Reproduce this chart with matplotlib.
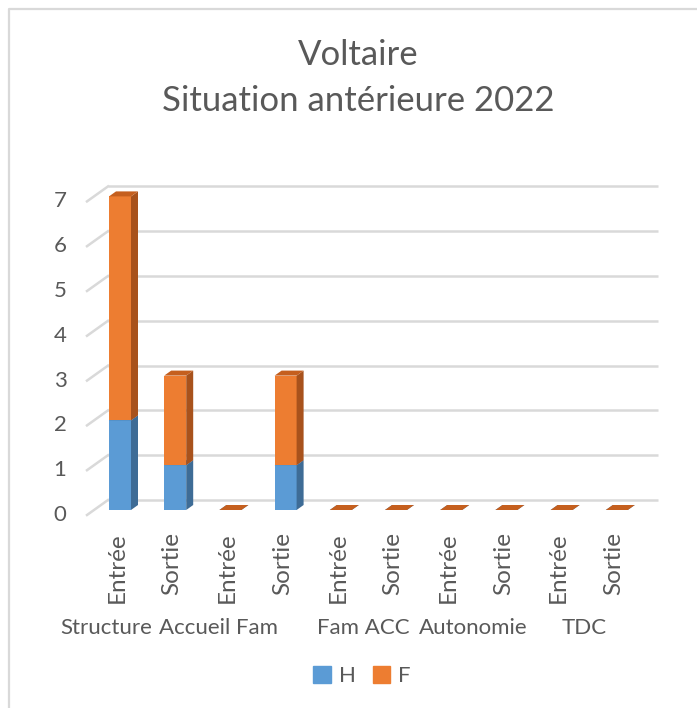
import matplotlib.pyplot as plt
from matplotlib.patches import Polygon, Patch
from matplotlib.lines import Line2D

# data
groups = ["Structure", "Accueil Fam", "Fam ACC", "Autonomie", "TDC"]
sub_labels = ["Entrée", "Sortie"]
h_vals = [2, 1, 0, 1, 0, 0, 0, 0, 0, 0]
f_vals = [5, 2, 0, 2, 0, 0, 0, 0, 0, 0]
y_ticks = [0, 1, 2, 3, 4, 5, 6, 7]

# layout (pixel based, figure is 697 x 708 at dpi 100)
W, H = 697, 708
X0, XSTEP = 117, 55.2      # pixel x of first category, step
Y0, YSTEP = 515, 44.8      # pixel y (from top) of value 0 on front plane
group_shift = [-0.69, -0.66, -0.04, -0.04, -0.04]   # in category units

TEXT = "#595959"
GRID = "#d9d9d9"
BLUE, BLUE_SIDE, BLUE_TOP = "#5b9bd5", "#3e6c96", "#4a82b5"
ORANGE, ORANGE_SIDE, ORANGE_TOP = "#ed7d31", "#a8521c", "#c55f1e"

plt.rcParams["font.family"] = ["Lato", "DejaVu Sans"]

fig = plt.figure(figsize=(W / 100, H / 100), dpi=100)
ax = fig.add_axes([0, 0, 1, 1])
ax.set_xlim(-X0 / XSTEP, (W - X0) / XSTEP)
ax.set_ylim((Y0 - H) / YSTEP, Y0 / YSTEP)
ax.axis("off")


def px(dx, dy):
    # pixel offset -> data units
    return dx / XSTEP, dy / YSTEP


# chart frame (left and top edges only visible)
fig.add_artist(Line2D([9 / W, 9 / W, 1], [0, 1 - 9 / H, 1 - 9 / H],
                      transform=fig.transFigure, color=GRID, lw=1.6))

# back wall gridlines + floor diagonals + y labels
gx0, _ = px(87 - X0, 0)
gx1, gy = px(108 - X0, 15)
gx2, _ = px(658 - X0, 0)
lx, _ = px(60 - X0, 0)
for v in y_ticks:
    ax.plot([gx1, gx2], [v + gy, v + gy], color=GRID, lw=1.8, zorder=1,
            solid_capstyle="butt")
    ax.plot([gx0, gx1], [v, v + gy], color=GRID, lw=1.8, zorder=1)
    ax.text(lx, v, str(v), ha="center", va="center", fontsize=16, color=TEXT)

# bars (front face + side + top)
bx, by = px(3, 5)          # bar front plane shift
dx, dy = px(7, 5)          # bar depth
bw = 22 / XSTEP
xs = list(range(len(h_vals)))


def draw_stack(x, bottom, height, front, side, top):
    left = x + bx - bw / 2
    y0 = bottom + by
    y1 = bottom + height + by
    if height > 0:
        ax.bar(x + bx, height, bw, bottom=y0, color=front, zorder=3)
        ax.add_patch(Polygon([(left + bw, y0), (left + bw + dx, y0 + dy),
                              (left + bw + dx, y1 + dy), (left + bw, y1)],
                             closed=True, color=side, lw=0, zorder=3))
    ax.add_patch(Polygon([(left, y1), (left + bw, y1),
                          (left + bw + dx, y1 + dy), (left + dx, y1 + dy)],
                         closed=True, color=top, lw=0, zorder=3))


for i in xs:
    draw_stack(i, 0, h_vals[i], BLUE, BLUE_SIDE, BLUE_TOP)
    draw_stack(i, h_vals[i], f_vals[i], ORANGE, ORANGE_SIDE, ORANGE_TOP)

# category labels
lab_y = (Y0 - 532) / YSTEP
for i in xs:
    ax.text(i, lab_y, sub_labels[i % 2], rotation=90, ha="center", va="top",
            fontsize=17.5, color=TEXT)
grp_y = (Y0 - 628) / YSTEP
for g, name in enumerate(groups):
    ax.text(2 * g + 0.5 + group_shift[g], grp_y, name, ha="center",
            va="center", fontsize=16, color=TEXT)

# title
fig.text(358 / W, 1 - 55 / H, "Voltaire", ha="center", va="center",
         fontsize=25, color=TEXT)
fig.text(358 / W, 1 - 101 / H, "Situation antérieure 2022", ha="center",
         va="center", fontsize=25, color=TEXT)

# legend
handles = [Patch(color=BLUE, label="H"), Patch(color=ORANGE, label="F")]
fig.legend(handles=handles, loc="center", bbox_to_anchor=(362 / W, 1 - 676 / H),
           ncol=2, frameon=False, fontsize=16, labelcolor=TEXT,
           handlelength=0.8, handleheight=0.8, handletextpad=0.35,
           columnspacing=0.75)

fig.savefig("out.png", dpi=100)
